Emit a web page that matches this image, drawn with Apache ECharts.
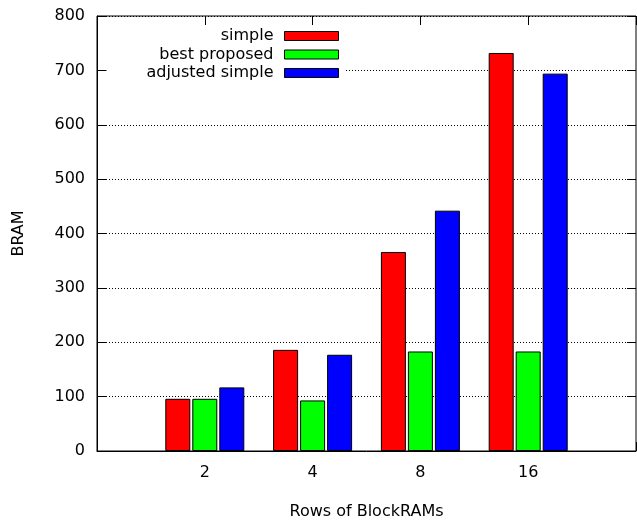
<!DOCTYPE html>
<html>
<head>
    <meta charset="utf-8">
    <title>BRAM</title>
    <script src="https://cdn.jsdelivr.net/npm/echarts@6/dist/echarts.min.js"></script>
    <style>
        body { margin: 0; background: #fff; }
    </style>
</head>
<body>
<div id="main" style="width: 637px;height:521px;"></div>
<script type="text/javascript">
    // data
    var categories = ['2', '4', '8', '16'];
    var simple = [96, 186, 366, 732];
    var bestProposed = [96, 93, 183, 183];
    var adjustedSimple = [117, 177, 442, 694];
    var yTicks = [0, 100, 200, 300, 400, 500, 600, 700, 800];

    var myChart = echarts.init(document.getElementById('main'));

    // bars sit on a value x axis: category i at x = i, range -1 .. 4
    function toPoints(arr) {
        var out = [];
        for (var i = 0; i < arr.length; i++) {
            out.push([i, arr[i]]);
        }
        return out;
    }

    var font = 'DejaVu Sans';

    // gnuplot style ticks, inside the frame
    function tickStyle() {
        return {show: true, inside: true, length: 9, interval: 0, lineStyle: {color: '#000', width: 1}};
    }
    function ghostLabel() {
        return {show: true, interval: 0, color: 'rgba(0,0,0,0)', fontSize: 16};
    }
    function bar(name, color, arr) {
        return {
            name: name,
            type: 'bar',
            barWidth: 25,
            barGap: '8%',
            itemStyle: {color: color, borderColor: '#000', borderWidth: 1},
            data: toPoints(arr)
        };
    }

    var option = {
        animation: false,
        backgroundColor: '#fff',
        textStyle: {fontFamily: font, fontSize: 16, color: '#000'},
        grid: {
            left: 97, right: 1, top: 16, bottom: 70,
            outerBoundsMode: 'none',
            show: true, borderColor: '#000', borderWidth: 1, backgroundColor: 'transparent'
        },
        legend: {
            orient: 'vertical',
            align: 'right',
            right: 292,
            top: 26,
            padding: [2, 6, 2, 40],
            backgroundColor: '#fff',
            itemWidth: 54,
            itemHeight: 9,
            itemGap: 2.5,
            icon: 'rect',
            itemStyle: {borderColor: '#000', borderWidth: 1},
            textStyle: {fontFamily: font, fontSize: 16, color: '#000', padding: [0, 6, 0, 0]},
            data: ['simple', 'best proposed', 'adjusted simple']
        },
        xAxis: [{
            type: 'value',
            position: 'bottom',
            min: -1,
            max: 4,
            interval: 1,
            name: 'Rows of BlockRAMs',
            nameLocation: 'middle',
            nameGap: 53,
            nameTextStyle: {fontFamily: font, fontSize: 16, color: '#000'},
            axisLine: {show: true, onZero: false, lineStyle: {color: '#000', width: 1}},
            axisTick: {show: true, inside: true, length: 9, lineStyle: {color: '#000', width: 1}},
            axisLabel: {
                margin: 14,
                fontFamily: font, fontSize: 16, color: '#000',
                formatter: function (v) {
                    return categories[v] !== undefined ? categories[v] : '';
                }
            },
            splitLine: {show: false}
        }, {
            // mirrored ticks on top: one slot per category plus an empty one at each end
            type: 'category',
            position: 'top',
            boundaryGap: false,
            data: [''].concat(categories, ['']),
            axisLine: {show: false, onZero: false},
            axisTick: tickStyle(),
            axisLabel: ghostLabel(),
            splitLine: {show: false}
        }],
        yAxis: [{
            type: 'value',
            position: 'left',
            min: yTicks[0],
            max: yTicks[yTicks.length - 1],
            interval: yTicks[1] - yTicks[0],
            name: 'BRAM',
            nameLocation: 'middle',
            nameGap: 70,
            nameTextStyle: {fontFamily: font, fontSize: 16, color: '#000'},
            axisLine: {show: true, onZero: false, lineStyle: {color: '#000', width: 1}},
            axisTick: {show: true, inside: true, length: 9, lineStyle: {color: '#000', width: 1}},
            axisLabel: {margin: 12, padding: [3, 0, 0, 0], fontFamily: font, fontSize: 16, color: '#000'},
            splitLine: {show: true, lineStyle: {color: '#000', type: [1, 2], width: 1}}
        }, {
            // mirrored ticks on the right, one slot per tick value
            type: 'category',
            position: 'right',
            boundaryGap: false,
            data: yTicks.map(String),
            axisLine: {show: false, onZero: false},
            axisTick: tickStyle(),
            axisLabel: ghostLabel(),
            splitLine: {show: false}
        }],
        series: [
            bar('simple', '#ff0000', simple),
            bar('best proposed', '#00ff00', bestProposed),
            bar('adjusted simple', '#0000ff', adjustedSimple)
        ]
    };

    myChart.setOption(option);
</script>
</body>
</html>
